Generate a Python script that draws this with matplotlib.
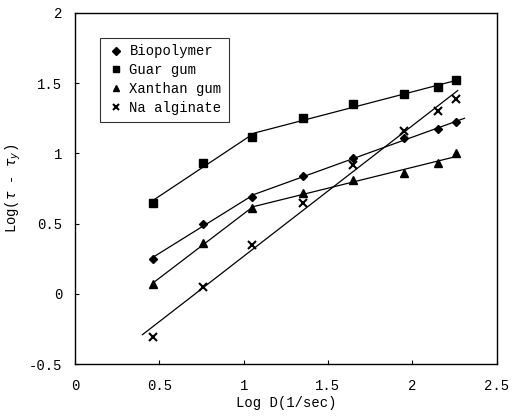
import numpy as np
import matplotlib.pyplot as plt

# Log D (1/sec) values shared by all series
log_d = [0.46, 0.76, 1.05, 1.35, 1.65, 1.95, 2.15, 2.26]

biopolymer = [0.25, 0.50, 0.69, 0.84, 0.97, 1.11, 1.17, 1.22]
guar_gum = [0.65, 0.93, 1.12, 1.25, 1.35, 1.42, 1.47, 1.52]
xanthan_gum = [0.07, 0.36, 0.61, 0.72, 0.81, 0.86, 0.93, 1.00]
na_alginate = [-0.31, 0.05, 0.35, 0.65, 0.92, 1.16, 1.30, 1.39]

x_ticks = [0, 0.5, 1, 1.5, 2, 2.5]
y_ticks = [-0.5, 0, 0.5, 1, 1.5, 2]

FONT = 'Liberation Mono'
plt.rcParams['font.family'] = [FONT, 'DejaVu Sans']


def two_segment(ax, x, y, x_end=None):
    """fit first 3 points and the rest separately, join at intersection"""
    x = np.asarray(x)
    y = np.asarray(y)
    m1, b1 = np.polyfit(x[:3], y[:3], 1)
    m2, b2 = np.polyfit(x[2:], y[2:], 1)
    xb = (b2 - b1) / (m1 - m2)
    if x_end is None:
        x_end = x[-1]
    xs = np.array([x[0], xb, x_end])
    ys = np.where(xs <= xb, m1 * xs + b1, m2 * xs + b2)
    ax.plot(xs, ys, color='black', lw=0.9)


fig = plt.figure(figsize=(5.14, 4.17), dpi=100)
ax = fig.add_axes([0.146, 0.127, 0.82, 0.842])

two_segment(ax, log_d, biopolymer, x_end=2.31)
two_segment(ax, log_d, guar_gum)
two_segment(ax, log_d, xanthan_gum)

m, b = np.polyfit(log_d, na_alginate, 1)
xl = np.array([0.40, 2.27])
ax.plot(xl, m * xl + b, color='black', lw=0.9)

ax.plot(log_d, biopolymer, 'D', color='black', ms=4.5, ls='none', label='Biopolymer')
ax.plot(log_d, guar_gum, 's', color='black', ms=5.5, ls='none', label='Guar gum')
ax.plot(log_d, xanthan_gum, '^', color='black', ms=5.5, ls='none', label='Xanthan gum')
ax.plot(log_d, na_alginate, 'x', color='black', ms=5.5, mew=1.5, ls='none', label='Na alginate')

ax.set_xlim(0, 2.5)
ax.set_ylim(-0.5, 2)
ax.set_xticks(x_ticks)
ax.set_yticks(y_ticks)
ax.set_xticklabels(['0', '0.5', '1', '1.5', '2', '2.5'], fontsize=10)
ax.set_yticklabels(['-0.5', '0', '0.5', '1', '1.5', '2'], fontsize=10)
ax.tick_params(direction='in', length=3, width=0.8)
ax.tick_params(axis='x', pad=11)
ax.tick_params(axis='y', pad=9)
for s in ax.spines.values():
    s.set_linewidth(1.0)
    s.set_color('black')

ax.set_xlabel('Log D(1/sec)', fontsize=10, labelpad=2)
ax.set_ylabel(r'Log($\tau$ - $\tau_y$)', fontsize=10, labelpad=4)

leg = ax.legend(loc='upper left', bbox_to_anchor=(0.06, 0.93), fontsize=10,
                frameon=True, fancybox=False, edgecolor='black', borderpad=0.5,
                handletextpad=0.4, labelspacing=0.35, handlelength=1.2,
                borderaxespad=0, markerscale=0.85)
leg.get_frame().set_linewidth(0.8)

plt.savefig('out.png', dpi=100)
plt.close()
